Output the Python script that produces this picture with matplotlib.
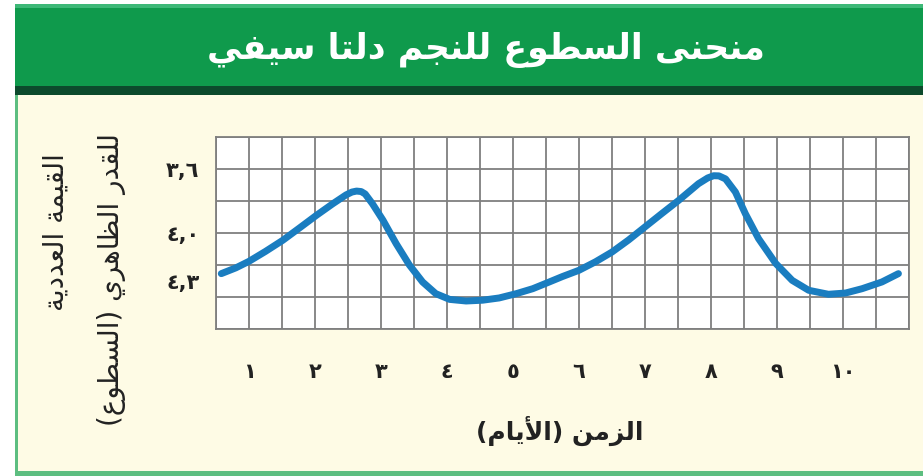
import numpy as np
import matplotlib
matplotlib.use('Agg')
import matplotlib.pyplot as plt
from matplotlib.patches import Rectangle
from matplotlib.ticker import MultipleLocator, FixedLocator

plt.rcParams['font.family'] = ['DejaVu Sans']

# 数据：天数与视星等
days = [0.58, 0.80, 1.0, 1.25, 1.51, 1.76, 2.02, 2.27, 2.47, 2.56, 2.63, 2.70, 2.76,
        2.87, 3.03, 3.23, 3.43, 3.63, 3.83, 4.04, 4.29, 4.54, 4.79, 5.05, 5.30, 5.55,
        5.75, 6.0, 6.25, 6.5, 6.75, 7.0, 7.25, 7.51, 7.81, 7.95, 8.04, 8.12, 8.22, 8.37,
        8.52, 8.72, 8.98, 9.23, 9.48, 9.78, 10.04, 10.29, 10.59, 10.84]
magnitude = [4.254, 4.218, 4.177, 4.115, 4.046, 3.97, 3.89, 3.817, 3.762, 3.744, 3.738,
             3.741, 3.756, 3.817, 3.92, 4.067, 4.20, 4.306, 4.379, 4.415, 4.425, 4.42,
             4.406, 4.379, 4.348, 4.306, 4.272, 4.233, 4.18, 4.119, 4.044, 3.962, 3.88,
             3.796, 3.692, 3.656, 3.642, 3.643, 3.662, 3.744, 3.879, 4.035, 4.19, 4.296,
             4.358, 4.383, 4.375, 4.348, 4.306, 4.254]

x_ticks = [1, 2, 3, 4, 5, 6, 7, 8, 9, 10]
x_tick_labels = ['١', '٢', '٣', '٤', '٥', '٦', '٧', '٨', '٩', '١٠']
y_ticks = [3.6, 4.0, 4.3]
y_tick_labels = ['٣,٦', '٤,٠', '٤,٣']

title_text = 'منحنى السطوع للنجم دلتا سيفي'
ylabel_line1 = 'القيمة العددية'
ylabel_line2 = 'للقدر الظاهري (السطوع)'
xlabel_text = 'الزمن (الأيام)'

# 简易阿拉伯文字形变换 (isol, fina, init, medi)
FORMS = {
    'ا': ('\uFE8D', '\uFE8E', None, None),
    'أ': ('\uFE83', '\uFE84', None, None),
    'ب': ('\uFE8F', '\uFE90', '\uFE91', '\uFE92'),
    'ة': ('\uFE93', '\uFE94', None, None),
    'ت': ('\uFE95', '\uFE96', '\uFE97', '\uFE98'),
    'ج': ('\uFE9D', '\uFE9E', '\uFE9F', '\uFEA0'),
    'ح': ('\uFEA1', '\uFEA2', '\uFEA3', '\uFEA4'),
    'د': ('\uFEA9', '\uFEAA', None, None),
    'ر': ('\uFEAD', '\uFEAE', None, None),
    'ز': ('\uFEAF', '\uFEB0', None, None),
    'س': ('\uFEB1', '\uFEB2', '\uFEB3', '\uFEB4'),
    'ط': ('\uFEC1', '\uFEC2', '\uFEC3', '\uFEC4'),
    'ظ': ('\uFEC5', '\uFEC6', '\uFEC7', '\uFEC8'),
    'ع': ('\uFEC9', '\uFECA', '\uFECB', '\uFECC'),
    'ف': ('\uFED1', '\uFED2', '\uFED3', '\uFED4'),
    'ق': ('\uFED5', '\uFED6', '\uFED7', '\uFED8'),
    'ل': ('\uFEDD', '\uFEDE', '\uFEDF', '\uFEE0'),
    'م': ('\uFEE1', '\uFEE2', '\uFEE3', '\uFEE4'),
    'ن': ('\uFEE5', '\uFEE6', '\uFEE7', '\uFEE8'),
    'ه': ('\uFEE9', '\uFEEA', '\uFEEB', '\uFEEC'),
    'و': ('\uFEED', '\uFEEE', None, None),
    'ى': ('\uFEEF', '\uFEF0', None, None),
    'ي': ('\uFEF1', '\uFEF2', '\uFEF3', '\uFEF4'),
}
LAM_ALEF = {'ا': ('\uFEFB', '\uFEFC'), 'أ': ('\uFEF7', '\uFEF8')}
MIRROR = {'(': ')', ')': '('}


def shape_arabic(text):
    chars = list(text)
    out = []
    i = 0
    while i < len(chars):
        c = chars[i]
        if c not in FORMS:
            out.append(c)
            i += 1
            continue
        prev = chars[i - 1] if i > 0 else None
        join_prev = prev in FORMS and FORMS[prev][2] is not None
        if c == 'ل' and i + 1 < len(chars) and chars[i + 1] in LAM_ALEF:
            out.append(LAM_ALEF[chars[i + 1]][1 if join_prev else 0])
            i += 2
            continue
        nxt = chars[i + 1] if i + 1 < len(chars) else None
        join_next = FORMS[c][2] is not None and nxt in FORMS
        isol, fina, init, medi = FORMS[c]
        if join_prev and join_next:
            out.append(medi)
        elif join_prev:
            out.append(fina)
        elif join_next:
            out.append(init)
        else:
            out.append(isol)
        i += 1
    return ''.join(MIRROR.get(ch, ch) for ch in reversed(out))


W, H = 923, 476
fig = plt.figure(figsize=(W / 100, H / 100), dpi=100, facecolor='white')


def fig_rect(x0, y0, x1, y1, color):
    # 像素坐标（左上原点）转换为 figure 坐标
    fig.patches.append(Rectangle((x0 / W, 1 - y1 / H), (x1 - x0) / W, (y1 - y0) / H,
                                 transform=fig.transFigure, facecolor=color,
                                 edgecolor='none', zorder=-5))


# 背景与标题栏
fig_rect(15, 95, W, 476, '#5DBE80')
fig_rect(18, 95, W, 471, '#FEFBE5')
fig_rect(15, 4, W, 86, '#0F9A4C')
fig_rect(15, 4, W, 8, '#3DB877')
fig_rect(15, 86, W, 95, '#0C4A2C')

fig.text(486 / W, 1 - 50 / H, shape_arabic(title_text), color='white', fontsize=25,
         fontweight='bold', ha='center', va='center')

ax = fig.add_axes([216 / W, 1 - 329 / H, (909 - 216) / W, (329 - 137) / H], zorder=2)
ax.set_facecolor('white')
ax.plot(days, magnitude, color='#1A7DC0', lw=5, solid_capstyle='round',
        solid_joinstyle='round', zorder=3)

ax.set_xlim(0.5, 11.0)
ax.set_ylim(4.6, 3.4)

ax.xaxis.set_major_locator(FixedLocator(x_ticks))
ax.set_xticklabels(x_tick_labels)
ax.yaxis.set_major_locator(FixedLocator(y_ticks))
ax.set_yticklabels(y_tick_labels)
ax.xaxis.set_minor_locator(MultipleLocator(0.5))
ax.yaxis.set_minor_locator(MultipleLocator(0.2))
ax.xaxis.remove_overlapping_locs = False
ax.yaxis.remove_overlapping_locs = False
ax.grid(which='minor', color='#7F7F7F', lw=1.3)
ax.grid(which='major', visible=False)
ax.tick_params(which='both', length=0)
ax.tick_params(axis='x', pad=24, labelsize=15, labelcolor='#222222')
ax.tick_params(axis='y', pad=12, labelsize=15, labelcolor='#222222')
for lbl in ax.get_xticklabels() + ax.get_yticklabels():
    lbl.set_fontweight('bold')
for sp in ax.spines.values():
    sp.set_color('#7F7F7F')
    sp.set_linewidth(1.3)

fig.text(56 / W, 1 - 232 / H, shape_arabic(ylabel_line1), rotation=90, fontsize=20,
         color='#222222', ha='center', va='center')
fig.text(112 / W, 1 - 280 / H, shape_arabic(ylabel_line2), rotation=90, fontsize=20,
         color='#222222', ha='center', va='center')
fig.text(560 / W, 1 - 431 / H, shape_arabic(xlabel_text), fontsize=18, fontweight='bold',
         color='#222222', ha='center', va='center')

fig.savefig('out.png', dpi=100, facecolor=fig.get_facecolor())
